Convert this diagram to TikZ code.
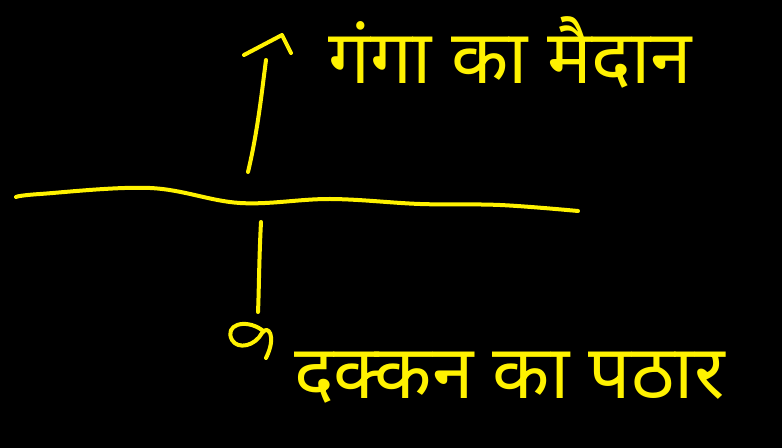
\documentclass[tikz,border=0pt]{standalone}
\usepackage{fontspec}
\newfontfamily\devfont[Script=Devanagari]{Noto Sans}
\definecolor{penyellow}{RGB}{255,242,0}

\begin{document}
\begin{tikzpicture}[x=0.75pt, y=-0.75pt, line cap=round, line join=round,
        pen/.style={draw=penyellow, line width=3pt},
        hindi/.style={text=penyellow, font=\devfont\fontsize{56}{64}\selectfont,
            anchor=west, inner sep=0pt}]
        \fill[black] (0,0) rectangle (782,448);
        % the dividing line
        \draw[pen] plot[smooth, tension=0.6] coordinates {(16,197) (40,194) (150,188)
            (240,203) (330,199) (420,204) (500,205) (578,211)};
        \coordinate (upfoot) at (248,172);
        \coordinate (uptip) at (266,60);
        \coordinate (downfoot) at (261,222);
        \coordinate (downtip) at (258,312);
        \node[hindi] (plain) at (328,52) {गंगा का मैदान};
        \node[hindi] (plateau) at (294,378) {दक्कन का पठार};
        \draw[pen] (upfoot) .. controls (258,130) and (262,90) .. (uptip);
        \draw[pen] (244,55) -- (282,35) -- (291,53);
        \draw[pen] (downfoot) .. controls (259,260) and (259,290) .. (downtip);
        \draw[pen] (262,330) .. controls (245,318) and (224,325) .. (232,340)
            .. controls (238,350) and (255,346) .. (262,333)
            .. controls (268,324) and (277,336) .. (266,358);
    \end{tikzpicture}
\end{document}
